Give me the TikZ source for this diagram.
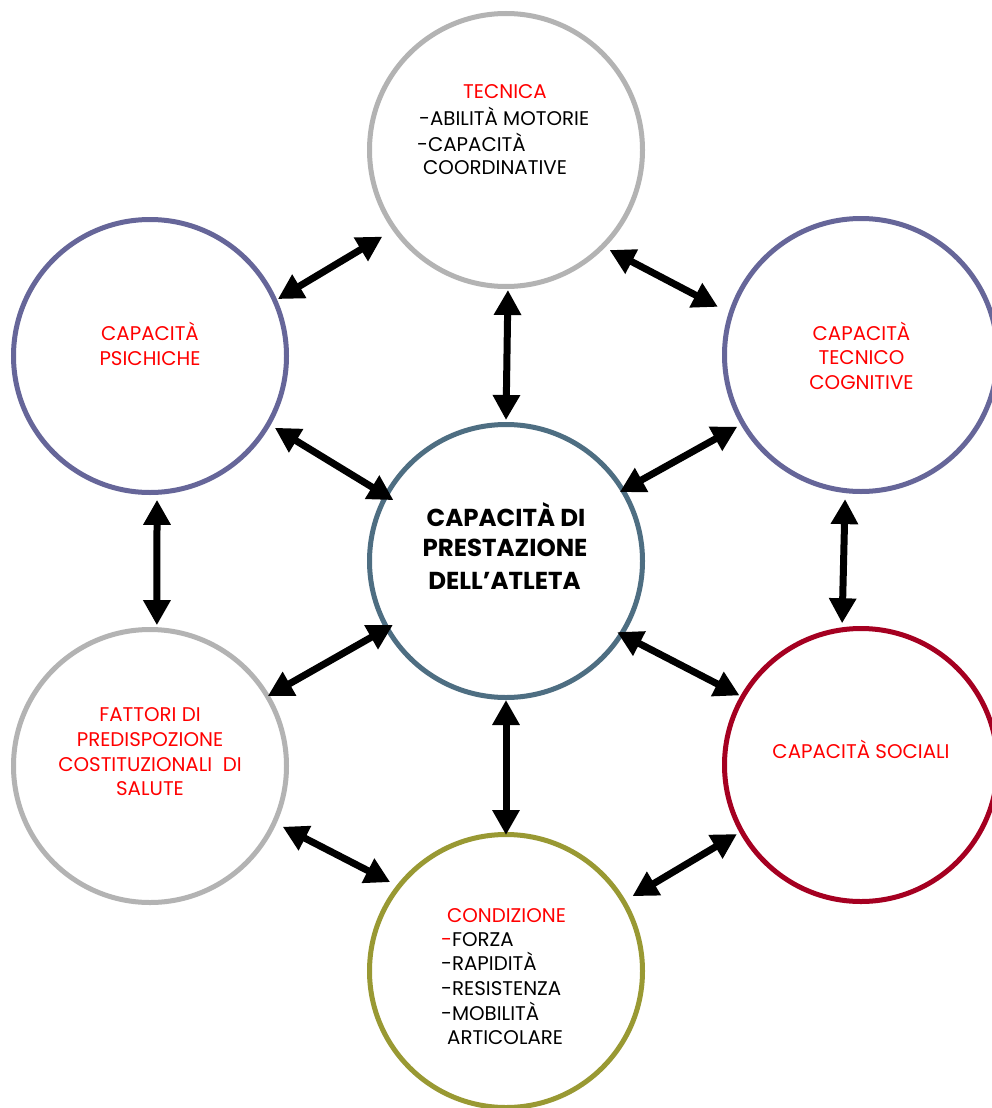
\documentclass[tikz,border=0pt]{standalone}
\usepackage{fontspec}
\setmainfont{Poppins}
\usetikzlibrary{arrows.meta,calc}
\definecolor{cgray}{HTML}{B3B3B3}
\definecolor{cpurple}{HTML}{666699}
\definecolor{cslate}{HTML}{4E6E82}
\definecolor{cwine}{HTML}{A50021}
\definecolor{colive}{HTML}{999933}
\definecolor{tred}{HTML}{FF0000}
\begin{document}
\begin{tikzpicture}[x=1pt,y=-1pt,
  circ/.style={circle,minimum size=273pt,inner sep=0pt,line width=5pt,fill=white},
  dbl/.style={line width=7pt,{Triangle[length=25pt,width=26pt]}-{Triangle[length=25pt,width=26pt]}},
  lbl/.style={inner sep=0pt,anchor=base,font=\fontsize{19.8}{23}\selectfont},
  lbll/.style={inner sep=0pt,anchor=base west,font=\fontsize{19.8}{23}\selectfont},
  rlbl/.style={lbl,text=tred},
  blbl/.style={inner sep=0pt,anchor=base,font=\fontsize{24.5}{29}\selectfont\bfseries}]
\path[use as bounding box,clip] (0,0) rectangle (992,1108);
\fill[white] (0,0) rectangle (992,1108);
% circles
\node[circ,draw=cgray]   (T) at (506,150) {};
\node[circ,draw=cpurple] (P) at (150,356) {};
\node[circ,draw=cpurple] (C) at (861,355) {};
\node[circ,draw=cslate]  (M) at (506,561) {};
\node[circ,draw=cgray]   (F) at (150,766) {};
\node[circ,draw=cwine]   (S) at (861,765) {};
\node[circ,draw=colive]  (D) at (506,971) {};
% arrows
\draw[dbl] ($(T)+(215:151pt)$) -- ($(P)+(24:140pt)$);
\draw[dbl] ($(T)+(316:144pt)$) -- ($(C)+(161.4:151pt)$);
\draw[dbl] ($(T)+(270.8:140pt)$) -- ($(M)+(90:141pt)$);
\draw[dbl] ($(P)+(330.1:144pt)$) -- ($(M)+(151.6:128pt)$);
\draw[dbl] ($(M)+(31.2:133pt)$) -- ($(C)+(210.1:143pt)$);
\draw[dbl] ($(P)+(272.8:144pt)$) -- ($(F)+(87.2:141pt)$);
\draw[dbl] ($(C)+(263.7:145pt)$) -- ($(S)+(97.6:143pt)$);
\draw[dbl] ($(M)+(209.5:130pt)$) -- ($(F)+(30.7:137pt)$);
\draw[dbl] ($(M)+(327.4:132pt)$) -- ($(S)+(150.2:140pt)$);
\draw[dbl] ($(M)+(270:139pt)$) -- ($(D)+(90:136pt)$);
\draw[dbl] ($(F)+(335.4:146pt)$) -- ($(D)+(142.5:146pt)$);
\draw[dbl] ($(D)+(30.6:147pt)$) -- ($(S)+(209.1:142pt)$);
% texts: TECNICA
\node[rlbl] (t1) at (505,99) {TECNICA};
\node[lbll] (t2) at (419,125) {-ABILITÀ MOTORIE};
\node[lbll] (t3) at (417,151) {-CAPACITÀ};
\node[lbll] (t4) at (423,174) {COORDINATIVE};
% psichiche
\node[rlbl] (p1) at (150,340.5) {CAPACITÀ};
\node[rlbl] (p2) at (150,365) {PSICHICHE};
% tecnico cognitive
\node[rlbl] (c1) at (861.5,340) {CAPACITÀ};
\node[rlbl] (c2) at (861.5,364.5) {TECNICO};
\node[rlbl] (c3) at (861.5,389) {COGNITIVE};
% center
\node[blbl] (m1) at (506,526.5) {CAPACITÀ DI};
\node[blbl] (m2) at (505,556.5) {PRESTAZIONE};
\node[blbl] (m3) at (504.5,589.5) {DELL’ATLETA};
% fattori
\node[rlbl] (f1) at (150,721.5) {FATTORI DI};
\node[rlbl] (f2) at (150,746) {PREDISPOZIONE};
\node[rlbl] (f3) at (150,771) {COSTITUZIONALI\ \ DI};
\node[rlbl] (f4) at (150,795) {SALUTE};
% sociali
\node[rlbl] (s1) at (861,758) {CAPACITÀ SOCIALI};
% condizione
\node[rlbl] (d1) at (506.5,922) {CONDIZIONE};
\node[lbll] (d2) at (441,946.5) {\textcolor{tred}{-}FORZA};
\node[lbll] (d3) at (441,970.5) {-RAPIDITÀ};
\node[lbll] (d4) at (441,995) {-RESISTENZA};
\node[lbll] (d5) at (441,1020) {-MOBILITÀ};
\node[lbll] (d6) at (447,1044) {ARTICOLARE};
\end{tikzpicture}
\end{document}
